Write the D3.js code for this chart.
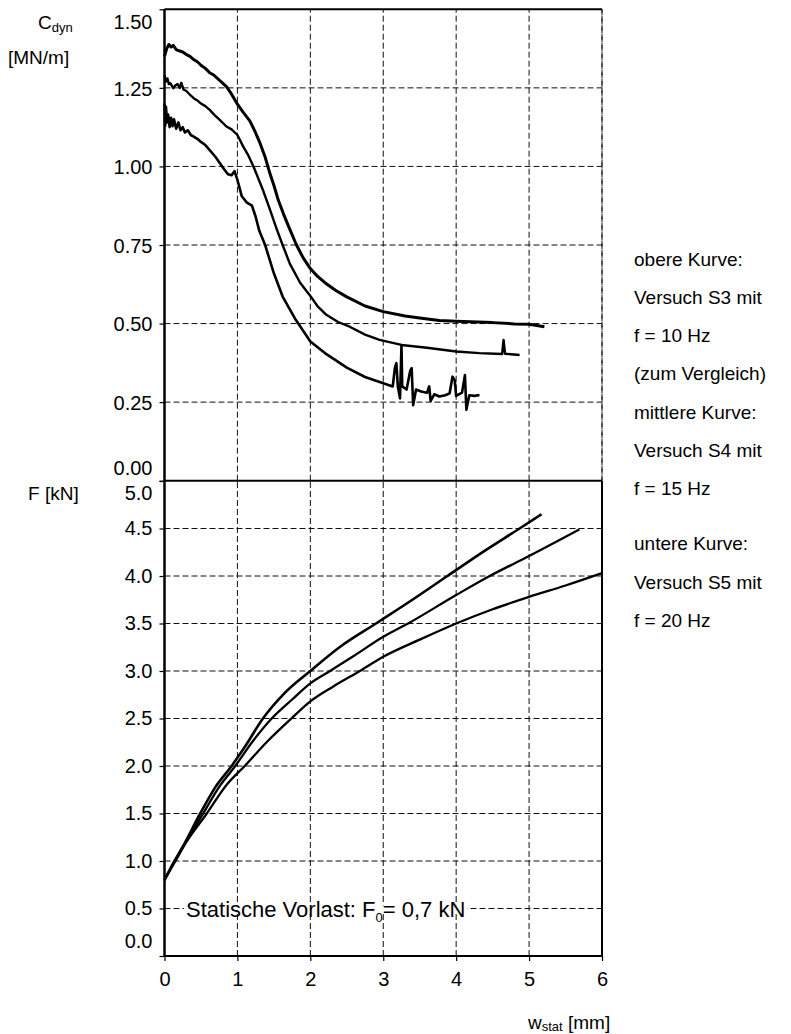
<!DOCTYPE html>
<html><head><meta charset="utf-8">
<script src="https://cdn.jsdelivr.net/npm/d3@7"></script>
<style>
body{margin:0;background:#fff;}
svg{display:block;font-family:"Liberation Sans",Arial,sans-serif;}
</style></head>
<body><svg id="c" width="791" height="1034"></svg>
<script>
// ---- data ----
const xTicks = [0,1,2,3,4,5,6];
const cTicks = [0,0.25,0.5,0.75,1.0,1.25,1.5];
const fTicks = [0,0.5,1,1.5,2,2.5,3,3.5,4,4.5,5];

// top panel: C_dyn [MN/m] vs w_stat [mm]
const cS3 = [[0,1.35],[0.03,1.375],[0.06,1.388],[0.09,1.38],[0.12,1.385],[0.16,1.372],[0.2,1.368],[0.25,1.364],[0.3,1.356],[0.35,1.35],[0.4,1.34],[0.45,1.333],[0.5,1.322],[0.56,1.312],[0.62,1.298],[0.68,1.29],[0.75,1.275],[0.85,1.254],[0.92,1.23],[1.0,1.198],[1.08,1.172],[1.17,1.145],[1.24,1.112],[1.31,1.074],[1.38,1.03],[1.445,0.978],[1.5,0.94],[1.56,0.893],[1.63,0.85],[1.7,0.81],[1.81,0.75],[1.9,0.71],[2.0,0.675],[2.1,0.65],[2.2,0.63],[2.35,0.605],[2.5,0.585],[2.75,0.556],[3.0,0.538],[3.3,0.524],[3.5,0.518],[3.77,0.51],[4.0,0.507],[4.5,0.503],[4.8,0.499],[5.0,0.498],[5.21,0.49]];
const cS4 = [[0,1.29],[0.02,1.27],[0.04,1.28],[0.06,1.262],[0.08,1.265],[0.12,1.249],[0.15,1.258],[0.18,1.262],[0.21,1.25],[0.23,1.266],[0.26,1.245],[0.3,1.24],[0.35,1.228],[0.4,1.217],[0.45,1.21],[0.5,1.2],[0.56,1.192],[0.62,1.18],[0.68,1.165],[0.75,1.15],[0.85,1.127],[0.92,1.118],[1.0,1.1],[1.08,1.063],[1.15,1.035],[1.22,1.0],[1.35,0.925],[1.45,0.86],[1.54,0.8],[1.62,0.75],[1.72,0.69],[1.86,0.63],[2.0,0.588],[2.1,0.555],[2.22,0.528],[2.38,0.505],[2.54,0.49],[2.75,0.465],[2.95,0.448],[3.25,0.432],[3.6,0.423],[4.0,0.411],[4.32,0.406],[4.63,0.403],[4.65,0.448],[4.67,0.404],[4.87,0.40]];
const cS5 = [[0,1.2],[0.01,1.13],[0.02,1.19],[0.035,1.14],[0.05,1.165],[0.07,1.125],[0.09,1.155],[0.11,1.128],[0.13,1.15],[0.16,1.12],[0.19,1.14],[0.22,1.115],[0.25,1.125],[0.28,1.108],[0.32,1.115],[0.36,1.1],[0.4,1.095],[0.45,1.088],[0.5,1.078],[0.56,1.068],[0.62,1.052],[0.7,1.03],[0.76,1.01],[0.82,0.99],[0.87,0.975],[0.92,0.972],[0.96,0.985],[1.0,0.957],[1.06,0.905],[1.13,0.885],[1.2,0.875],[1.25,0.84],[1.3,0.795],[1.38,0.75],[1.5,0.66],[1.62,0.586],[1.8,0.512],[2.0,0.443],[2.2,0.406],[2.5,0.36],[2.75,0.33],[3.0,0.31],[3.13,0.3],[3.16,0.36],[3.18,0.374],[3.2,0.3],[3.23,0.262],[3.25,0.432],[3.26,0.3],[3.32,0.29],[3.37,0.35],[3.39,0.358],[3.41,0.24],[3.45,0.29],[3.52,0.284],[3.6,0.28],[3.63,0.3],[3.65,0.254],[3.7,0.275],[3.77,0.268],[3.85,0.272],[3.91,0.278],[3.95,0.331],[3.98,0.32],[4.0,0.27],[4.08,0.28],[4.12,0.336],[4.14,0.226],[4.18,0.272],[4.25,0.27],[4.32,0.273]];

// bottom panel: F [kN] vs w_stat [mm]
const fS3 = [[0,0.8],[0.1,0.95],[0.25,1.15],[0.49,1.5],[0.7,1.78],[0.92,2.0],[1.1,2.2],[1.35,2.5],[1.65,2.77],[2.0,3.0],[2.4,3.25],[2.9,3.5],[3.4,3.75],[3.88,4.0],[4.4,4.27],[4.87,4.5],[5.17,4.65]];
const fS4 = [[0,0.8],[0.12,0.97],[0.27,1.17],[0.53,1.5],[0.75,1.78],[0.97,2.0],[1.2,2.25],[1.47,2.5],[1.75,2.7],[2.0,2.87],[2.27,3.0],[2.6,3.16],[3.0,3.36],[3.34,3.5],[4.0,3.8],[4.46,4.0],[5.0,4.21],[5.69,4.49]];
const fS5 = [[0,0.8],[0.15,1.0],[0.3,1.2],[0.58,1.5],[0.85,1.8],[1.1,2.0],[1.4,2.25],[1.74,2.5],[2.0,2.68],[2.3,2.83],[2.68,3.0],[3.0,3.15],[3.5,3.33],[4.0,3.5],[4.5,3.65],[5.0,3.78],[5.5,3.9],[6.0,4.03]];

const legendLines = ["obere Kurve:","Versuch S3 mit","f = 10 Hz","(zum Vergleich)","mittlere Kurve:","Versuch S4 mit","f = 15 Hz","untere Kurve:","Versuch S5 mit","f = 20 Hz"];

// ---- drawing ----
const svg = d3.select("#c");
const x = d3.scaleLinear().domain([0,6]).range([164.5,602]);
const yC = d3.scaleLinear().domain([0,1.5]).range([480.7,9.3]);
const yF = d3.scaleLinear().domain([0,5]).range([956,481]);
const FS = 19, TFS = 20;

// grid
function grid(y, ticks){
  const g = svg.append("g").attr("stroke","#111").attr("stroke-width",1).attr("stroke-dasharray","6,3");
  g.selectAll(".h").data(ticks).join("line")
    .attr("x1",x(0)).attr("x2",x(6)).attr("y1",d=>y(d)).attr("y2",d=>y(d));
  g.selectAll(".v").data(xTicks.slice(1)).join("line")
    .attr("x1",d=>x(d)).attr("x2",d=>x(d)).attr("y1",y.range()[0]).attr("y2",y.range()[1]);
}
grid(yC, cTicks.slice(1,-1));
grid(yF, fTicks.slice(1,-1));

// annotation with white backing (breaks the 0.5 grid line)
const ann = svg.append("text").attr("x",186).attr("y",yF(0.5)+8).attr("font-size",22).attr("fill","#000");
ann.append("tspan").text("Statische Vorlast: F");
ann.append("tspan").attr("font-size",13).attr("dy",5).text("0");
ann.append("tspan").attr("dy",-5).text("= 0,7 kN");
const bb = ann.node().getBBox();
svg.insert("rect","text").attr("x",bb.x-2).attr("y",yF(0.5)-3).attr("width",bb.width+4).attr("height",6).attr("fill","#fff");

// frames
const frame = svg.append("g").attr("stroke","#000").attr("fill","none");
frame.append("line").attr("x1",x(0)).attr("x2",x(0)).attr("y1",yC(1.5)).attr("y2",yF(0)).attr("stroke-width",2.5);
frame.append("line").attr("x1",x(0)).attr("x2",x(6)).attr("y1",yC(1.5)).attr("y2",yC(1.5)).attr("stroke-width",2);
frame.append("line").attr("x1",x(0)).attr("x2",x(6)).attr("y1",yC(0)).attr("y2",yC(0)).attr("stroke-width",2);
frame.append("line").attr("x1",x(0)).attr("x2",x(6)).attr("y1",yF(0)).attr("y2",yF(0)).attr("stroke-width",2);
frame.append("line").attr("x1",x(6)).attr("x2",x(6)).attr("y1",yF(5)).attr("y2",yF(0)).attr("stroke-width",2);
svg.append("line").attr("x1",x(6)).attr("x2",x(6)).attr("y1",yC(1.5)).attr("y2",yC(0))
  .attr("stroke","#111").attr("stroke-dasharray","6,3");

// axes
function styleAxis(g){
  g.select(".domain").remove();
  g.selectAll("line").attr("stroke","#000").attr("stroke-width",1.2);
  g.selectAll("text").attr("font-size",TFS).attr("fill","#000").attr("font-family","'Liberation Sans',Arial,sans-serif");
}
// label shifts at the panel edges (as in the original layout)
const cShift = {1.5:12, 0:-14};
const fShift = {5:12, 0:-15};
svg.append("g").attr("transform",`translate(${x(0)},0)`)
  .call(d3.axisLeft(yC).tickValues(cTicks).tickFormat(d3.format(".2f")).tickSize(5).tickPadding(7)).call(styleAxis)
  .selectAll(".tick text").attr("transform",d=>`translate(0,${(cShift[d]||0)+1})`);
svg.append("g").attr("transform",`translate(${x(0)},0)`)
  .call(d3.axisLeft(yF).tickValues(fTicks).tickFormat(d3.format(".1f")).tickSize(5).tickPadding(7)).call(styleAxis)
  .selectAll(".tick text").attr("transform",d=>`translate(0,${fShift[d]||0})`);
svg.append("g").attr("transform",`translate(0,${yF(0)})`)
  .call(d3.axisBottom(x).tickValues(xTicks).tickFormat(d3.format("d")).tickSize(5).tickPadding(11)).call(styleAxis);

// curves
const lineC = d3.line().x(d=>x(d[0])).y(d=>yC(d[1]));
const lineF = d3.line().x(d=>x(d[0])).y(d=>yF(d[1])).curve(d3.curveMonotoneX);
const cg = svg.append("g").attr("fill","none").attr("stroke","#000").attr("stroke-linejoin","round");
cg.append("path").datum(cS3).attr("d",lineC).attr("stroke-width",3);
cg.append("path").datum(cS4).attr("d",lineC).attr("stroke-width",2.4);
cg.append("path").datum(cS5).attr("d",lineC).attr("stroke-width",2.6);
cg.append("path").datum(fS3).attr("d",lineF).attr("stroke-width",2.6);
cg.append("path").datum(fS4).attr("d",lineF).attr("stroke-width",2.3);
cg.append("path").datum(fS5).attr("d",lineF).attr("stroke-width",2.3);

// axis titles
const t1 = svg.append("text").attr("x",38).attr("y",29).attr("font-size",FS).attr("fill","#000");
t1.append("tspan").text("C");
t1.append("tspan").attr("font-size",13).attr("dy",3).text("dyn");
svg.append("text").attr("x",8).attr("y",64).attr("font-size",FS).attr("fill","#000").text("[MN/m]");
svg.append("text").attr("x",28).attr("y",500).attr("font-size",FS).attr("fill","#000").text("F [kN]");
const t2 = svg.append("text").attr("x",528).attr("y",1029).attr("font-size",FS).attr("fill","#000");
t2.append("tspan").text("w");
t2.append("tspan").attr("font-size",13).attr("dy",2).text("stat");
t2.append("tspan").attr("dy",-2).text(" [mm]");

// right-hand legend text
const ly = [259,297,335,373,412,450,488,543,582,620];
svg.append("g").selectAll("text").data(legendLines).join("text")
  .attr("x",634).attr("y",(d,i)=>ly[i]+7).attr("font-size",FS).attr("fill","#000").text(d=>d);
</script></body></html>
